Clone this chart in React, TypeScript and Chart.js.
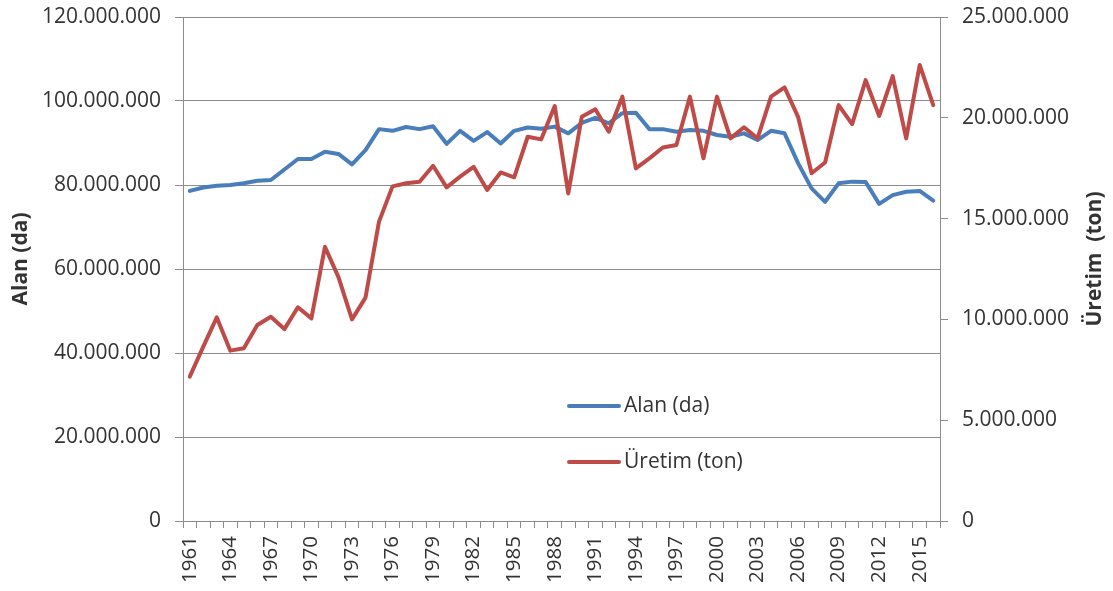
import React, { useEffect, useRef } from "react";
import { Chart, registerables } from "chart.js";

Chart.register(...registerables);

const years: string[] = [
  "1961", "1962", "1963", "1964", "1965", "1966", "1967", "1968", "1969", "1970",
  "1971", "1972", "1973", "1974", "1975", "1976", "1977", "1978", "1979", "1980",
  "1981", "1982", "1983", "1984", "1985", "1986", "1987", "1988", "1989", "1990",
  "1991", "1992", "1993", "1994", "1995", "1996", "1997", "1998", "1999", "2000",
  "2001", "2002", "2003", "2004", "2005", "2006", "2007", "2008", "2009", "2010",
  "2011", "2012", "2013", "2014", "2015", "2016",
];

const alan: number[] = [
  78600000, 79400000, 79800000, 80000000, 80400000, 81000000, 81200000, 83700000, 86200000, 86200000,
  87900000, 87400000, 84900000, 88300000, 93300000, 92900000, 93800000, 93300000, 94000000, 89800000,
  92900000, 90500000, 92600000, 89900000, 92900000, 93700000, 93400000, 93900000, 92300000, 94800000,
  96000000, 94700000, 97100000, 97200000, 93300000, 93300000, 92700000, 93100000, 92900000, 91900000,
  91500000, 92300000, 90700000, 92900000, 92300000, 85200000, 79200000, 76000000, 80400000, 80800000,
  80700000, 75500000, 77600000, 78400000, 78600000, 76300000,
];

const uretim: number[] = [
  7160000, 8650000, 10100000, 8450000, 8570000, 9720000, 10130000, 9520000, 10600000, 10050000,
  13600000, 12100000, 10000000, 11080000, 14850000, 16600000, 16750000, 16830000, 17620000, 16550000,
  17080000, 17570000, 16420000, 17290000, 17050000, 19060000, 18930000, 20580000, 16250000, 20050000,
  20420000, 19310000, 21050000, 17490000, 17990000, 18530000, 18650000, 21050000, 17990000, 21050000,
  18980000, 19530000, 18980000, 21050000, 21510000, 20050000, 17250000, 17780000, 20630000, 19690000,
  21870000, 20090000, 22070000, 18980000, 22620000, 20630000,
];

const seriesNames: string[] = ["Alan (da)", "Üretim (ton)"];
const axisTitles: string[] = ["Alan (da)", "Üretim  (ton)"];
const leftMax = 120000000;
const leftStep = 20000000;
const rightMax = 25000000;
const rightStep = 5000000;

const BLUE = "#4A7EBB";
const RED = "#BE4B48";
const GRID = "#8c8c8c";
const TEXT = "#333333";
const FONT = "'Open Sans', 'DejaVu Sans', sans-serif";

function fmt(v: number): string {
  return Math.round(v)
    .toString()
    .replace(/\B(?=(\d{3})+(?!\d))/g, ".");
}

const overlayPlugin = {
  id: "overlay",
  afterDraw(chart: any) {
    const ctx = chart.ctx as CanvasRenderingContext2D;
    const area = chart.chartArea;
    const midY = (area.top + area.bottom) / 2 - 10;
    ctx.save();
    ctx.fillStyle = TEXT;
    ctx.font = `bold 21px ${FONT}`;
    ctx.textAlign = "center";
    ctx.textBaseline = "middle";
    ctx.save();
    ctx.translate(21, midY);
    ctx.rotate(-Math.PI / 2);
    ctx.fillText(axisTitles[0], 0, 0);
    ctx.restore();
    ctx.save();
    ctx.translate(chart.width - 18, midY);
    ctx.rotate(-Math.PI / 2);
    ctx.fillText(axisTitles[1], 0, 0);
    ctx.restore();

    const lx = area.left + 386;
    const ly = area.top + 389;
    const colors = [BLUE, RED];
    ctx.font = `21px ${FONT}`;
    ctx.textAlign = "left";
    ctx.textBaseline = "middle";
    seriesNames.forEach((name, i) => {
      const y = ly + i * 56;
      ctx.strokeStyle = colors[i];
      ctx.lineWidth = 4;
      ctx.lineCap = "round";
      ctx.beginPath();
      ctx.moveTo(lx, y);
      ctx.lineTo(lx + 50, y);
      ctx.stroke();
      ctx.fillStyle = TEXT;
      ctx.fillText(name, lx + 55, y);
    });
    ctx.restore();
  },
};

export default function App() {
  const canvasRef = useRef<HTMLCanvasElement | null>(null);

  useEffect(() => {
    const canvas = canvasRef.current;
    if (!canvas) return;
    const yFit = (w: number) => (s: any) => {
      s.width = w;
      s.paddingTop = 0;
      s.paddingBottom = 0;
    };
    const chart = new Chart(canvas, {
      type: "line",
      data: {
        labels: years,
        datasets: [
          {
            label: seriesNames[0],
            data: alan,
            borderColor: BLUE,
            backgroundColor: BLUE,
            borderWidth: 4,
            pointRadius: 0,
            tension: 0,
            borderJoinStyle: "round",
            borderCapStyle: "round",
            yAxisID: "y",
            order: 1,
          },
          {
            label: seriesNames[1],
            data: uretim,
            borderColor: RED,
            backgroundColor: RED,
            borderWidth: 4,
            pointRadius: 0,
            tension: 0,
            borderJoinStyle: "round",
            borderCapStyle: "round",
            yAxisID: "y1",
            order: 0,
          },
        ],
      },
      options: {
        responsive: false,
        animation: false,
        layout: { padding: { top: 17, left: 0, right: 0, bottom: 0 } },
        plugins: {
          legend: { display: false },
          tooltip: { enabled: false },
        },
        scales: {
          x: {
            type: "category",
            offset: true,
            grid: {
              offset: true,
              drawOnChartArea: false,
              drawTicks: true,
              tickLength: 7,
              color: GRID,
            },
            border: { display: true, color: GRID },
            ticks: {
              autoSkip: false,
              minRotation: 90,
              maxRotation: 90,
              padding: 8,
              color: TEXT,
              font: { family: FONT, size: 20.5 },
              callback: (_v: any, i: number) => (i % 3 === 0 ? years[i] : ""),
            },
            afterFit: (s: any) => {
              s.height = 70;
            },
          },
          y: {
            position: "left",
            min: 0,
            max: leftMax,
            grid: {
              color: GRID,
              drawTicks: true,
              tickLength: 8,
            },
            border: { display: true, color: GRID },
            ticks: {
              stepSize: leftStep,
              padding: 14,
              color: TEXT,
              font: { family: FONT, size: 21 },
              callback: (v: any) => fmt(Number(v)),
            },
            afterFit: yFit(183),
          },
          y1: {
            position: "right",
            min: 0,
            max: rightMax,
            grid: {
              color: GRID,
              drawOnChartArea: false,
              drawTicks: true,
              tickLength: 8,
            },
            border: { display: true, color: GRID },
            ticks: {
              stepSize: rightStep,
              padding: 14,
              color: TEXT,
              font: { family: FONT, size: 21 },
              callback: (v: any) => fmt(Number(v)),
            },
            afterFit: yFit(173),
          },
        },
      },
      plugins: [overlayPlugin],
    } as any);
    return () => chart.destroy();
  }, []);

  return (
    <div style={{ position: "absolute", left: 0, top: 0, width: 1113, height: 591, background: "#fff" }}>
      <canvas ref={canvasRef} width={1113} height={591} style={{ display: "block" }} />
    </div>
  );
}
